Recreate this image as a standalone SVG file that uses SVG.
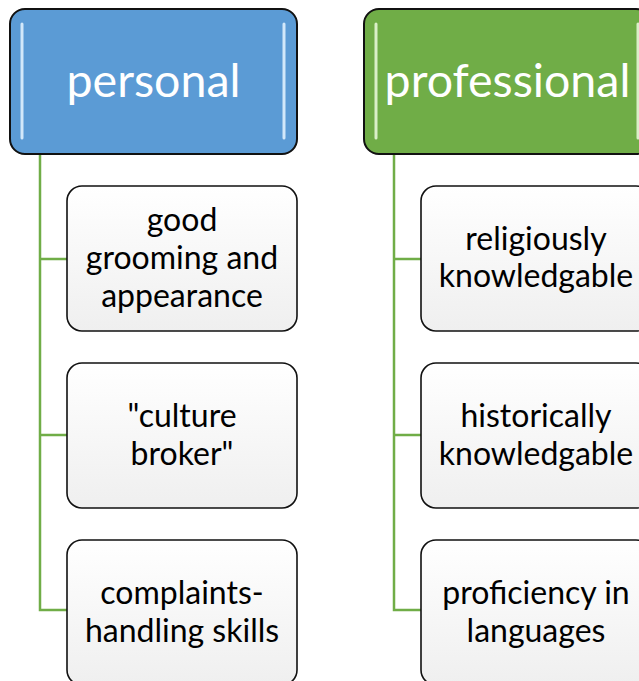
<svg xmlns="http://www.w3.org/2000/svg" width="639" height="681" viewBox="0 0 639 681">
<defs>
<linearGradient id="childFill" x1="0" y1="0" x2="0" y2="1"><stop offset="0" stop-color="#ffffff"/><stop offset="1" stop-color="#efefef"/></linearGradient>
<style>
.head{stroke:#111;stroke-width:2}
.blue{fill:#5B9BD5}
.green{fill:#70AD47}
.hl{stroke:#dff1ff;stroke-width:3;stroke-linecap:round;opacity:0.9}
.hlg{stroke:#e6f7d6;stroke-width:3;stroke-linecap:round;opacity:0.9}
.htext{font-family:Lato,"Liberation Sans",Arial,sans-serif;font-size:46.5px;fill:#fff;text-anchor:middle}
.child{fill:url(#childFill);stroke:#111;stroke-width:1.6}
.ctext{font-family:Lato,"Liberation Sans",Arial,sans-serif;font-size:32px;fill:#000;text-anchor:middle}
.conn{stroke:#70AD47;stroke-width:2.5;fill:none}
</style>
</defs>
<g id="connectors">
<path class="conn" d="M40 154 V610 H68 M40 259 H68 M40 435 H68"/>
<path class="conn" d="M394 154 V610 H422 M394 259 H422 M394 435 H422"/>
</g>
<g id="personal">
<rect class="head blue" x="10" y="9" width="287" height="145" rx="15"/>
<line class="hl" x1="22" y1="24" x2="22" y2="138"/>
<line class="hl" x1="284" y1="24" x2="284" y2="138"/>
<text class="htext" x="153.5" y="97">personal</text>
</g>
<g id="professional">
<rect class="head green" x="364" y="9" width="287" height="145" rx="15"/>
<line class="hlg" x1="376" y1="24" x2="376" y2="138"/>
<line class="hlg" x1="638" y1="24" x2="638" y2="138"/>
<text class="htext" x="507.5" y="97">professional</text>
</g>
<g id="good-grooming">
<rect class="child" x="67" y="186" width="230" height="145" rx="15"/>
<text class="ctext" x="182" y="231">good</text>
<text class="ctext" x="182" y="269">grooming and</text>
<text class="ctext" x="182" y="307">appearance</text>
</g>
<g id="culture-broker">
<rect class="child" x="67" y="363" width="230" height="145" rx="15"/>
<text class="ctext" x="182" y="427">"culture</text>
<text class="ctext" x="182" y="465">broker"</text>
</g>
<g id="complaints">
<rect class="child" x="67" y="540" width="230" height="145" rx="15"/>
<text class="ctext" x="182" y="604">complaints-</text>
<text class="ctext" x="182" y="642">handling skills</text>
</g>
<g id="religiously">
<rect class="child" x="421" y="186" width="230" height="145" rx="15"/>
<text class="ctext" x="536" y="250">religiously</text>
<text class="ctext" x="536" y="287">knowledgable</text>
</g>
<g id="historically">
<rect class="child" x="421" y="363" width="230" height="145" rx="15"/>
<text class="ctext" x="536" y="427">historically</text>
<text class="ctext" x="536" y="465">knowledgable</text>
</g>
<g id="proficiency">
<rect class="child" x="421" y="540" width="230" height="145" rx="15"/>
<text class="ctext" x="536" y="604">proficiency in</text>
<text class="ctext" x="536" y="642">languages</text>
</g>
</svg>
